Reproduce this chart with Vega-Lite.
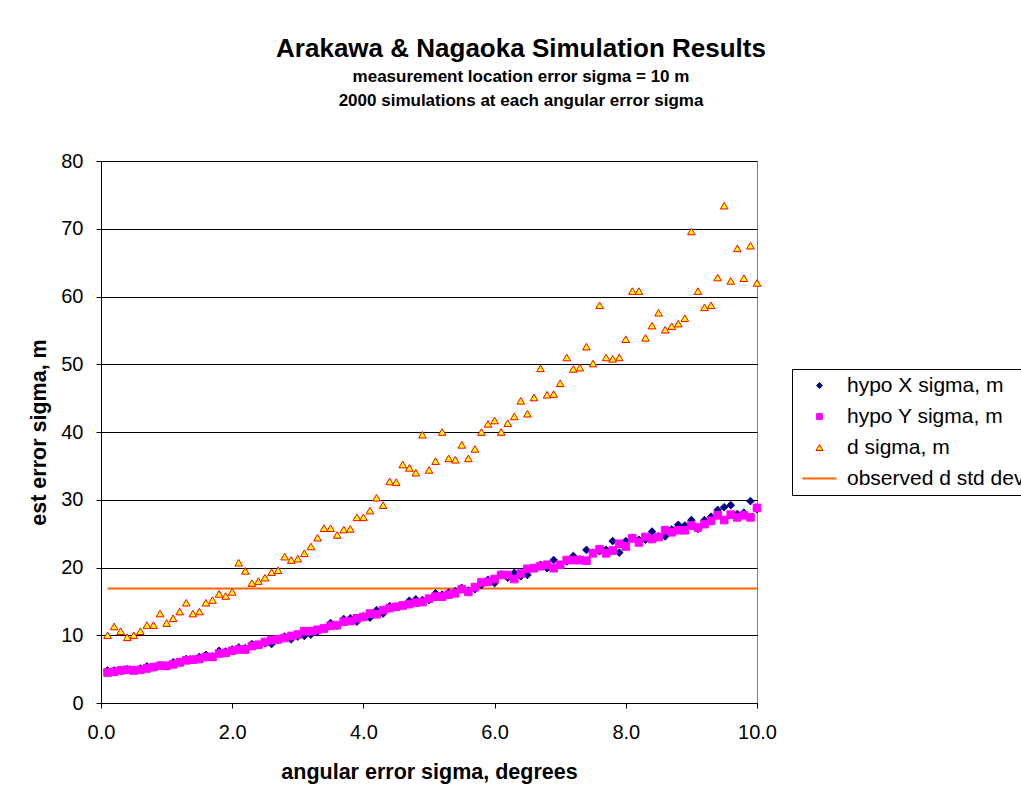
{
  "$schema": "https://vega.github.io/schema/vega-lite/v6.json",
  "width": 656,
  "height": 542,
  "autosize": {"type": "none"},
  "padding": {"left": 101, "top": 161, "right": 264, "bottom": 98},
  "background": "white",
  "title": {
    "text": "Arakawa & Nagaoka Simulation Results",
    "subtitle": ["measurement location error sigma = 10 m", "2000 simulations at each angular error sigma"],
    "anchor": "middle",
    "frame": "group",
    "dx": 92,
    "offset": 42,
    "font": "Liberation Sans",
    "fontSize": 26,
    "fontWeight": "bold",
    "color": "black",
    "subtitleFont": "Liberation Sans",
    "subtitleFontSize": 17,
    "subtitleFontWeight": "bold",
    "subtitleColor": "black",
    "subtitleLineHeight": 24,
    "subtitlePadding": 7
  },
  "config": {
    "font": "Liberation Sans",
    "view": {"stroke": "#808080", "strokeWidth": 1},
    "axis": {
      "labelFont": "Liberation Sans",
      "labelColor": "black",
      "labelFontSize": 20,
      "titleFont": "Liberation Sans",
      "titleColor": "black",
      "titleFontSize": 21.5,
      "titleFontWeight": "bold",
      "domainColor": "black",
      "domainWidth": 1,
      "tickColor": "black",
      "tickSize": 5,
      "tickWidth": 1,
      "labelFlush": false,
      "labelOverlap": false
    },
    "legend": {
      "orient": "none",
      "legendX": 691,
      "legendY": 208,
      "labelFont": "Liberation Sans",
      "labelFontSize": 21,
      "labelColor": "black",
      "labelLimit": 400,
      "symbolSize": 50,
      "symbolStrokeWidth": 1,
      "symbolOffset": 11,
      "labelOffset": 17,
      "strokeColor": "black",
      "fillColor": "white",
      "padding": 6,
      "rowPadding": 9
    }
  },
  "layer": [
    {
      "data": {"values": [{"x": 0.1, "v": 16.9, "series": "obs"}, {"x": 10.0, "v": 16.9, "series": "obs"}]},
      "mark": {"type": "line", "strokeWidth": 2},
      "encoding": {
        "x": {"field": "x", "type": "quantitative"},
        "y": {"field": "v", "type": "quantitative"},
        "stroke": {
          "field": "series", "type": "nominal",
          "scale": {"domain": ["hx", "hy", "d", "obs"], "range": ["#000080", "#FF00FF", "#FF0000", "#FF6600"]},
          "legend": {
            "title": null,
            "labelExpr": "datum.value == 'hx' ? 'hypo X sigma, m' : datum.value == 'hy' ? 'hypo Y sigma, m' : datum.value == 'd' ? 'd sigma, m' : 'observed d std dev'",
            "encode": {"symbols": {"update": {
              "size": {"signal": "datum.value == 'obs' ? 1156 : datum.value == 'd' ? 48 : 34"},
              "strokeWidth": {"signal": "datum.value == 'obs' ? 2 : 1"},
              "opacity": {"value": 1}
            }}}
          }
        }
      }
    },
    {
      "data": {"values": [
        {"x": 0.1, "hx": 4.8, "hy": 4.5, "d": 10.0},
        {"x": 0.2, "hx": 4.8, "hy": 4.6, "d": 11.3},
        {"x": 0.3, "hx": 4.9, "hy": 4.8, "d": 10.6},
        {"x": 0.4, "hx": 5.0, "hy": 4.9, "d": 9.7},
        {"x": 0.5, "hx": 4.9, "hy": 4.8, "d": 10.0},
        {"x": 0.6, "hx": 5.1, "hy": 4.9, "d": 10.6},
        {"x": 0.7, "hx": 5.4, "hy": 5.1, "d": 11.5},
        {"x": 0.8, "hx": 5.3, "hy": 5.3, "d": 11.5},
        {"x": 0.9, "hx": 5.6, "hy": 5.5, "d": 13.2},
        {"x": 1.0, "hx": 5.4, "hy": 5.5, "d": 11.8},
        {"x": 1.1, "hx": 6.0, "hy": 5.7, "d": 12.5},
        {"x": 1.2, "hx": 6.1, "hy": 6.0, "d": 13.5},
        {"x": 1.3, "hx": 6.5, "hy": 6.3, "d": 14.8},
        {"x": 1.4, "hx": 6.4, "hy": 6.4, "d": 13.2},
        {"x": 1.5, "hx": 6.8, "hy": 6.5, "d": 13.5},
        {"x": 1.6, "hx": 7.1, "hy": 6.8, "d": 14.8},
        {"x": 1.7, "hx": 6.9, "hy": 6.8, "d": 15.2},
        {"x": 1.8, "hx": 7.7, "hy": 7.3, "d": 16.1},
        {"x": 1.9, "hx": 7.6, "hy": 7.4, "d": 15.8},
        {"x": 2.0, "hx": 7.9, "hy": 7.7, "d": 16.4},
        {"x": 2.1, "hx": 8.2, "hy": 7.9, "d": 20.7},
        {"x": 2.2, "hx": 8.1, "hy": 7.9, "d": 19.5},
        {"x": 2.3, "hx": 8.7, "hy": 8.4, "d": 17.7},
        {"x": 2.4, "hx": 8.6, "hy": 8.6, "d": 18.0},
        {"x": 2.5, "hx": 8.8, "hy": 9.0, "d": 18.5},
        {"x": 2.6, "hx": 8.7, "hy": 9.3, "d": 19.3},
        {"x": 2.7, "hx": 9.3, "hy": 9.4, "d": 19.6},
        {"x": 2.8, "hx": 9.8, "hy": 9.6, "d": 21.6},
        {"x": 2.9, "hx": 9.4, "hy": 9.9, "d": 21.1},
        {"x": 3.0, "hx": 9.8, "hy": 10.1, "d": 21.3},
        {"x": 3.1, "hx": 9.9, "hy": 10.6, "d": 22.1},
        {"x": 3.2, "hx": 10.1, "hy": 10.6, "d": 23.1},
        {"x": 3.3, "hx": 10.5, "hy": 10.8, "d": 24.4},
        {"x": 3.4, "hx": 11.0, "hy": 11.0, "d": 25.8},
        {"x": 3.5, "hx": 11.8, "hy": 11.4, "d": 25.8},
        {"x": 3.6, "hx": 11.4, "hy": 11.5, "d": 24.8},
        {"x": 3.7, "hx": 12.4, "hy": 12.0, "d": 25.6},
        {"x": 3.8, "hx": 12.5, "hy": 12.1, "d": 25.7},
        {"x": 3.9, "hx": 12.0, "hy": 12.5, "d": 27.4},
        {"x": 4.0, "hx": 12.8, "hy": 12.7, "d": 27.4},
        {"x": 4.1, "hx": 12.6, "hy": 13.2, "d": 28.4},
        {"x": 4.2, "hx": 13.7, "hy": 13.1, "d": 30.3},
        {"x": 4.3, "hx": 13.2, "hy": 13.7, "d": 29.2},
        {"x": 4.4, "hx": 14.3, "hy": 14.0, "d": 32.7},
        {"x": 4.5, "hx": 14.2, "hy": 14.2, "d": 32.6},
        {"x": 4.6, "hx": 14.4, "hy": 14.4, "d": 35.2},
        {"x": 4.7, "hx": 15.1, "hy": 14.6, "d": 34.7},
        {"x": 4.8, "hx": 15.3, "hy": 14.8, "d": 34.0},
        {"x": 4.9, "hx": 15.2, "hy": 14.9, "d": 39.6},
        {"x": 5.0, "hx": 15.2, "hy": 15.4, "d": 34.4},
        {"x": 5.1, "hx": 16.2, "hy": 15.7, "d": 35.7},
        {"x": 5.2, "hx": 16.0, "hy": 15.7, "d": 40.0},
        {"x": 5.3, "hx": 16.3, "hy": 16.0, "d": 36.1},
        {"x": 5.4, "hx": 16.5, "hy": 16.2, "d": 35.9},
        {"x": 5.5, "hx": 17.0, "hy": 16.8, "d": 38.1},
        {"x": 5.6, "hx": 16.6, "hy": 16.4, "d": 36.1},
        {"x": 5.7, "hx": 16.8, "hy": 17.1, "d": 37.5},
        {"x": 5.8, "hx": 17.4, "hy": 17.8, "d": 40.0},
        {"x": 5.9, "hx": 18.2, "hy": 17.9, "d": 41.2},
        {"x": 6.0, "hx": 17.7, "hy": 18.3, "d": 41.7},
        {"x": 6.1, "hx": 19.0, "hy": 18.9, "d": 40.0},
        {"x": 6.2, "hx": 18.5, "hy": 18.9, "d": 41.3},
        {"x": 6.3, "hx": 19.2, "hy": 18.3, "d": 42.3},
        {"x": 6.4, "hx": 18.7, "hy": 19.1, "d": 44.6},
        {"x": 6.5, "hx": 18.9, "hy": 19.8, "d": 42.7},
        {"x": 6.6, "hx": 19.9, "hy": 19.9, "d": 45.1},
        {"x": 6.7, "hx": 20.4, "hy": 20.2, "d": 49.4},
        {"x": 6.8, "hx": 19.9, "hy": 20.4, "d": 45.5},
        {"x": 6.9, "hx": 21.1, "hy": 19.9, "d": 45.6},
        {"x": 7.0, "hx": 20.4, "hy": 20.4, "d": 47.2},
        {"x": 7.1, "hx": 20.9, "hy": 21.1, "d": 51.0},
        {"x": 7.2, "hx": 21.7, "hy": 21.1, "d": 49.3},
        {"x": 7.3, "hx": 21.2, "hy": 21.1, "d": 49.5},
        {"x": 7.4, "hx": 22.6, "hy": 21.0, "d": 52.6},
        {"x": 7.5, "hx": 22.2, "hy": 22.1, "d": 50.1},
        {"x": 7.6, "hx": 22.4, "hy": 22.7, "d": 58.7},
        {"x": 7.7, "hx": 22.6, "hy": 22.1, "d": 51.0},
        {"x": 7.8, "hx": 23.9, "hy": 22.5, "d": 50.8},
        {"x": 7.9, "hx": 22.2, "hy": 23.5, "d": 51.0},
        {"x": 8.0, "hx": 23.9, "hy": 23.1, "d": 53.7},
        {"x": 8.1, "hx": 24.4, "hy": 24.3, "d": 60.8},
        {"x": 8.2, "hx": 24.1, "hy": 23.7, "d": 60.8},
        {"x": 8.3, "hx": 24.1, "hy": 24.5, "d": 53.9},
        {"x": 8.4, "hx": 25.3, "hy": 24.2, "d": 55.7},
        {"x": 8.5, "hx": 24.6, "hy": 24.5, "d": 57.6},
        {"x": 8.6, "hx": 24.6, "hy": 25.5, "d": 55.1},
        {"x": 8.7, "hx": 25.6, "hy": 25.2, "d": 55.6},
        {"x": 8.8, "hx": 26.3, "hy": 25.5, "d": 56.0},
        {"x": 8.9, "hx": 26.2, "hy": 25.5, "d": 56.8},
        {"x": 9.0, "hx": 27.0, "hy": 26.2, "d": 69.6},
        {"x": 9.1, "hx": 25.7, "hy": 25.9, "d": 60.8},
        {"x": 9.2, "hx": 27.0, "hy": 26.4, "d": 58.4},
        {"x": 9.3, "hx": 27.5, "hy": 26.9, "d": 58.7},
        {"x": 9.4, "hx": 28.5, "hy": 27.7, "d": 62.8},
        {"x": 9.5, "hx": 28.9, "hy": 27.0, "d": 73.4},
        {"x": 9.6, "hx": 29.2, "hy": 27.8, "d": 62.3},
        {"x": 9.7, "hx": 27.9, "hy": 27.4, "d": 67.1},
        {"x": 9.8, "hx": 28.1, "hy": 27.7, "d": 62.7},
        {"x": 9.9, "hx": 29.8, "hy": 27.4, "d": 67.5},
        {"x": 10.0, "hx": 28.6, "hy": 28.8, "d": 62.0}
      ]},
      "transform": [{"fold": ["hx", "hy", "d"], "as": ["series", "v"]}],
      "mark": {"type": "point", "filled": true, "opacity": 1, "strokeWidth": 1, "size": 58},
      "encoding": {
        "x": {
          "field": "x", "type": "quantitative",
          "scale": {"domain": [0, 10], "nice": false, "zero": false},
          "axis": {"title": "angular error sigma, degrees", "values": [0, 2, 4, 6, 8, 10], "format": ".1f", "grid": false, "labelPadding": 14, "titlePadding": 19}
        },
        "y": {
          "field": "v", "type": "quantitative",
          "scale": {"domain": [0, 80], "nice": false},
          "axis": {"title": "est error sigma, m", "values": [0, 10, 20, 30, 40, 50, 60, 70, 80], "grid": true, "gridColor": "black", "gridOpacity": 1, "gridWidth": 1, "labelPadding": 13, "titlePadding": 10}
        },
        "shape": {
          "field": "series", "type": "nominal",
          "scale": {"domain": ["hx", "hy", "d", "obs"], "range": ["diamond", "square", "triangle-up", "stroke"]},
          "legend": {
            "title": null,
            "labelExpr": "datum.value == 'hx' ? 'hypo X sigma, m' : datum.value == 'hy' ? 'hypo Y sigma, m' : datum.value == 'd' ? 'd sigma, m' : 'observed d std dev'",
            "encode": {"symbols": {"update": {
              "size": {"signal": "datum.value == 'obs' ? 1156 : datum.value == 'd' ? 48 : 34"},
              "strokeWidth": {"signal": "datum.value == 'obs' ? 2 : 1"},
              "opacity": {"value": 1}
            }}}
          }
        },
        "fill": {
          "field": "series", "type": "nominal",
          "scale": {"domain": ["hx", "hy", "d", "obs"], "range": ["#000080", "#FF00FF", "#FFFF00", "#FF6600"]},
          "legend": {
            "title": null,
            "labelExpr": "datum.value == 'hx' ? 'hypo X sigma, m' : datum.value == 'hy' ? 'hypo Y sigma, m' : datum.value == 'd' ? 'd sigma, m' : 'observed d std dev'",
            "encode": {"symbols": {"update": {
              "size": {"signal": "datum.value == 'obs' ? 1156 : datum.value == 'd' ? 48 : 34"},
              "strokeWidth": {"signal": "datum.value == 'obs' ? 2 : 1"},
              "opacity": {"value": 1}
            }}}
          }
        },
        "stroke": {
          "field": "series", "type": "nominal",
          "scale": {"domain": ["hx", "hy", "d", "obs"], "range": ["#000080", "#FF00FF", "#FF0000", "#FF6600"]},
          "legend": {
            "title": null,
            "labelExpr": "datum.value == 'hx' ? 'hypo X sigma, m' : datum.value == 'hy' ? 'hypo Y sigma, m' : datum.value == 'd' ? 'd sigma, m' : 'observed d std dev'",
            "encode": {"symbols": {"update": {
              "size": {"signal": "datum.value == 'obs' ? 1156 : datum.value == 'd' ? 48 : 34"},
              "strokeWidth": {"signal": "datum.value == 'obs' ? 2 : 1"},
              "opacity": {"value": 1}
            }}}
          }
        },
        "order": {"field": "series", "sort": "ascending"}
      }
    }
  ]
}
